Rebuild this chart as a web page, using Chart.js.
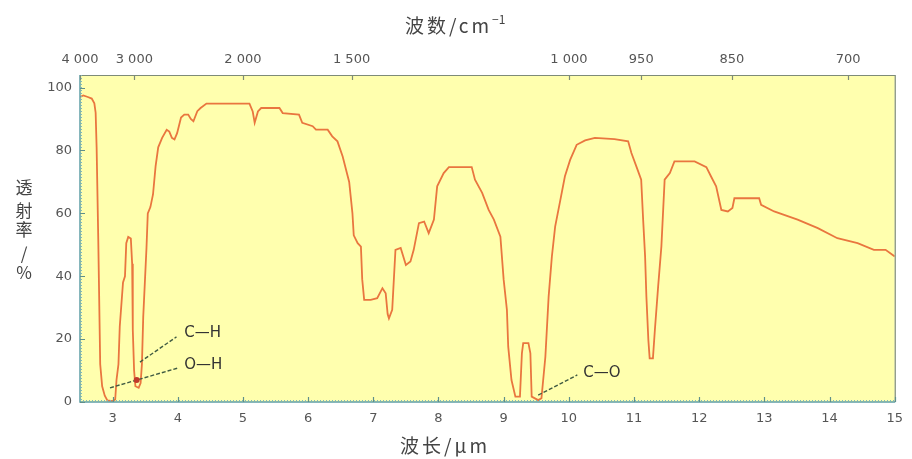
<!DOCTYPE html>
<html>
<head>
<meta charset="utf-8">
<script src="https://cdn.jsdelivr.net/npm/chart.js@4.4.1/dist/chart.umd.min.js"></script>
<style>
html,body{margin:0;padding:0;background:#fff;}
#c{display:block;}
</style>
</head>
<body>
<canvas id="c" width="912" height="459"></canvas>
<script>
// ---- data ----
const wavelength = [
  2.50, 2.55, 2.62, 2.68, 2.72, 2.74, 2.755, 2.78, 2.81, 2.84, 2.88, 2.92, 3.00, 3.04, 3.06, 3.09, 3.11, 3.16, 3.19, 3.21,
  3.24, 3.28, 3.30, 3.31, 3.33, 3.35, 3.40, 3.43, 3.45, 3.47, 3.52, 3.54, 3.58, 3.62, 3.66, 3.70, 3.76, 3.83, 3.87, 3.91,
  3.95, 3.99, 4.05, 4.10, 4.16, 4.20, 4.24, 4.30, 4.35, 4.44, 5.10, 5.15, 5.18, 5.23, 5.28, 5.56, 5.61, 5.86, 5.91, 6.07,
  6.12, 6.30, 6.37, 6.45, 6.53, 6.63, 6.68, 6.70, 6.76, 6.81, 6.83, 6.86, 6.96, 7.06, 7.14, 7.19, 7.22, 7.24, 7.29, 7.34,
  7.42, 7.50, 7.57, 7.62, 7.70, 7.78, 7.85, 7.93, 7.98, 8.08, 8.16, 8.51, 8.56, 8.67, 8.77, 8.85, 8.95, 9.00, 9.05, 9.07,
  9.12, 9.18, 9.25, 9.28, 9.30, 9.38, 9.41, 9.43, 9.53, 9.58, 9.64, 9.69, 9.74, 9.79, 9.87, 9.94, 10.02, 10.12, 10.25, 10.40,
  10.70, 10.91, 10.96, 11.04, 11.11, 11.14, 11.17, 11.19, 11.22, 11.24, 11.29, 11.32, 11.37, 11.42, 11.47, 11.55, 11.62, 11.93, 12.11, 12.18,
  12.26, 12.34, 12.44, 12.51, 12.54, 12.92, 12.95, 13.15, 13.51, 13.82, 14.12, 14.43, 14.68, 14.86, 15.00
];
const transmittance = [
  97, 97.5, 97, 96.5, 95, 92, 81, 52, 12, 5, 2, 0.5, 0.3, 0.8, 7, 12, 24, 38, 40, 50.5,
  52.5, 52, 44, 23, 10, 5, 4.5, 6, 12, 27, 49, 60, 62, 66, 75, 81, 84, 86.6, 86, 84,
  83.5, 85.5, 90.5, 91.4, 91.4, 90, 89.3, 92.5, 93.5, 94.9, 94.9, 92.4, 88.8, 92.4, 93.5, 93.5, 91.9, 91.4, 88.8, 87.7,
  86.6, 86.6, 84.5, 82.9, 78.1, 70, 60, 53, 50.5, 49.4, 39, 32.5, 32.5, 33, 36.2, 34.6, 28, 26.6, 29.3, 48.4,
  49, 43.6, 44.7, 48.4, 56.9, 57.4, 53.7, 58, 68.6, 72.8, 74.7, 74.7, 70.7, 66.5, 61.1, 58, 52.6, 38.9, 29.3, 17.6,
  7, 1.7, 1.7, 15.5, 18.7, 18.7, 15.5, 1.7, 0.6, 1.2, 14.4, 33.5, 46.3, 55.8, 64.3, 71.8, 77, 81.8, 83.2, 84,
  83.6, 82.9, 79.2, 74.7, 70.7, 58, 46.3, 33.5, 19.7, 13.9, 13.9, 22.9, 36.7, 49.5, 70.7, 72.8, 76.5, 76.5, 74.7, 71.8,
  68.6, 61.1, 60.6, 61.7, 64.8, 64.8, 62.7, 60.6, 58, 55.3, 52.1, 50.5, 48.4, 48.4, 46.3
];
const xTickValues = [3, 4, 5, 6, 7, 8, 9, 10, 11, 12, 13, 14, 15];
const yTickValues = [0, 20, 40, 60, 80, 100];
const topTickWavenumbers = [4000, 3000, 2000, 1500, 1000, 900, 800, 700];
const topTickLabels = ['4 000', '3 000', '2 000', '1 500', '1 000', '950', '850', '700'];
const xTitle = '波长/μm';
const topTitle = '波数/cm';
const topTitleSup = '−1';
const yTitleChars = ['透', '射', '率', '/', '%'];
// annotations: label, line start (x,y), line end (x,y), text position (x,y) in data units
const annoLabels = ['C—H', 'O—H', 'C—O'];
const annoFrom = [[3.42, 12.7], [2.96, 4.5], [9.53, 2.2]];
const annoTo   = [[3.98, 20.7], [4.00, 10.8], [10.13, 8.6]];
const annoText = [[4.10, 22.0], [4.10, 11.8], [10.22, 9.2]];
const markerPoint = [3.37, 7];

const points = wavelength.map((w, i) => ({x: w, y: transmittance[i]}));

const LABEL_FONT = {family: "'DejaVu Sans', 'Liberation Sans', sans-serif", size: 13};
const LABEL_COLOR = '#555';
const CJK = "'Noto Sans CJK SC', 'Noto Sans', sans-serif";

const deco = {
  id: 'deco',
  beforeDraw(chart) {
    const {ctx, chartArea: a} = chart;
    ctx.save();
    ctx.fillStyle = '#FFFFAE';
    ctx.fillRect(a.left, a.top, a.right - a.left, a.bottom - a.top);
    ctx.restore();
  },
  afterDraw(chart) {
    const {ctx, chartArea: a, scales} = chart;
    const xs = scales.x, ys = scales.y, xt = scales.x2;
    ctx.save();
    // frame
    ctx.lineWidth = 1.2;
    ctx.strokeStyle = '#7d8b78';
    ctx.beginPath();
    ctx.moveTo(a.left, a.top + 0.5); ctx.lineTo(a.right + 0.5, a.top + 0.5);
    ctx.lineTo(a.right + 0.5, a.bottom);
    ctx.stroke();
    ctx.strokeStyle = '#5f9ea6';
    ctx.lineWidth = 1.5;
    ctx.beginPath();
    ctx.moveTo(a.left, a.top); ctx.lineTo(a.left, a.bottom);
    ctx.lineTo(a.right + 0.5, a.bottom);
    ctx.stroke();
    ctx.setLineDash([1, 2]);
    ctx.lineWidth = 1;
    ctx.strokeStyle = '#7fb8c0';
    ctx.beginPath();
    ctx.moveTo(a.left + 1.5, a.top); ctx.lineTo(a.left + 1.5, a.bottom);
    ctx.moveTo(a.left, a.bottom - 1.5); ctx.lineTo(a.right, a.bottom - 1.5);
    ctx.stroke();
    ctx.setLineDash([]);
    // tick marks
    ctx.lineWidth = 1.2;
    ctx.strokeStyle = '#5f8f8a';
    ctx.beginPath();
    xs.ticks.forEach(t => {
      const px = Math.round(xs.getPixelForValue(t.value)) + 0.5;
      ctx.moveTo(px, a.bottom); ctx.lineTo(px, a.bottom - 5);
    });
    ys.ticks.forEach(t => {
      const py = Math.round(ys.getPixelForValue(t.value)) + 0.5;
      ctx.moveTo(a.left, py); ctx.lineTo(a.left + 5, py);
    });
    ctx.stroke();
    ctx.strokeStyle = '#7d8b78';
    ctx.beginPath();
    xt.ticks.forEach(t => {
      const px = Math.round(xt.getPixelForValue(t.value)) + 0.5;
      ctx.moveTo(px, a.top); ctx.lineTo(px, a.top + 5);
    });
    ctx.stroke();

    // annotations
    ctx.strokeStyle = '#3f5a42';
    ctx.lineWidth = 1.4;
    ctx.setLineDash([4, 2]);
    annoLabels.forEach((lab, i) => {
      ctx.beginPath();
      ctx.moveTo(xs.getPixelForValue(annoFrom[i][0]), ys.getPixelForValue(annoFrom[i][1]));
      ctx.lineTo(xs.getPixelForValue(annoTo[i][0]), ys.getPixelForValue(annoTo[i][1]));
      ctx.stroke();
    });
    ctx.setLineDash([]);
    ctx.fillStyle = '#c0392b';
    ctx.beginPath();
    ctx.arc(xs.getPixelForValue(markerPoint[0]), ys.getPixelForValue(markerPoint[1]), 3, 0, Math.PI * 2);
    ctx.fill();
    ctx.fillStyle = '#333';
    ctx.font = "15px 'DejaVu Sans', sans-serif";
    ctx.textBaseline = 'middle';
    ctx.textAlign = 'left';
    annoLabels.forEach((lab, i) => {
      ctx.fillText(lab, xs.getPixelForValue(annoText[i][0]), ys.getPixelForValue(annoText[i][1]));
    });

    // axis titles
    ctx.fillStyle = '#444';
    ctx.textBaseline = 'middle';
    ctx.textAlign = 'left';
    ctx.letterSpacing = '3px';
    ctx.font = '19px ' + CJK;
    const tx = 405, ty = 26;
    ctx.fillText(topTitle, tx, ty);
    const w = ctx.measureText(topTitle).width;
    ctx.letterSpacing = '0px';
    ctx.font = '12px ' + CJK;
    ctx.fillText(topTitleSup, tx + w, ty - 7);
    ctx.letterSpacing = '3px';
    ctx.font = '19px ' + CJK;
    ctx.fillText(xTitle, 400, 446);
    ctx.letterSpacing = '0px';
    ctx.textAlign = 'center';
    ctx.font = '17px ' + CJK;
    const yPos = [188, 211, 230, 254, 273];
    yTitleChars.forEach((ch, i) => ctx.fillText(ch, 24, yPos[i]));
    ctx.restore();
  }
};

new Chart(document.getElementById('c'), {
  type: 'line',
  data: {
    datasets: [{
      data: points,
      borderColor: '#E9763F',
      borderWidth: 1.8,
      pointRadius: 0,
      tension: 0,
      fill: false
    }]
  },
  options: {
    responsive: false,
    animation: false,
    devicePixelRatio: 1,
    layout: {padding: {left: 0, right: 15, top: 0, bottom: 0}},
    plugins: {legend: {display: false}, tooltip: {enabled: false}},
    scales: {
      x: {
        type: 'linear', position: 'bottom', min: 2.5, max: 15,
        afterBuildTicks: s => { s.ticks = xTickValues.map(v => ({value: v})); },
        afterFit: s => { s.height = 57; },
        grid: {display: false, drawTicks: false},
        border: {display: false},
        ticks: {font: LABEL_FONT, color: LABEL_COLOR, padding: 9, maxRotation: 0, autoSkip: false}
      },
      x2: {
        type: 'linear', position: 'top', min: 2.5, max: 15,
        afterBuildTicks: s => { s.ticks = topTickWavenumbers.map(n => ({value: 1e4 / n})); },
        afterFit: s => { s.height = 75; },
        grid: {display: false, drawTicks: false},
        border: {display: false},
        ticks: {
          font: LABEL_FONT, color: LABEL_COLOR, padding: 8, maxRotation: 0, autoSkip: false,
          callback: (v, i) => topTickLabels[i]
        }
      },
      y: {
        type: 'linear', position: 'left', min: 0, max: 104,
        afterBuildTicks: s => { s.ticks = yTickValues.map(v => ({value: v})); },
        afterFit: s => { s.width = 80; },
        grid: {display: false, drawTicks: false},
        border: {display: false},
        ticks: {font: LABEL_FONT, color: LABEL_COLOR, padding: 8}
      }
    }
  },
  plugins: [deco]
});
</script>
</body>
</html>
